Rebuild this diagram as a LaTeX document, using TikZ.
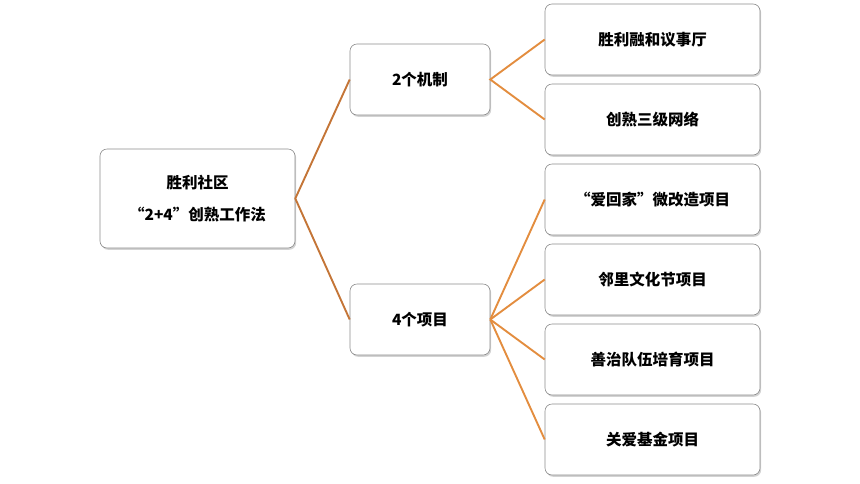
\documentclass[tikz,border=0pt]{standalone}
\usepackage{fontspec}
\setmainfont{Noto Sans CJK SC}
\usetikzlibrary{shadows}
\definecolor{rootline}{HTML}{C47537}
\definecolor{midline}{HTML}{E38D3F}
\tikzset{
  box/.style={draw=black!45, line width=0.6pt, rounded corners=7pt, fill=white,
    drop shadow={shadow xshift=1.2pt, shadow yshift=-1.8pt, opacity=0.35},
    align=center, font=\bfseries\fontsize{15.5}{32}\selectfont},
  rootbox/.style={box, minimum width=195pt, minimum height=99pt},
  midbox/.style={box, minimum width=140pt, minimum height=71pt},
  leafbox/.style={box, minimum width=215pt, minimum height=71pt},
  tie/.style={line width=1.9pt, color=midline}
}

\begin{document}
\begin{tikzpicture}[x=1pt, y=-1pt]
			%%%%% START %%%%%
			\useasboundingbox (0, 0) rectangle (860, 483);
			
			\node[rootbox] (root) at (197.5, 198.5) {胜利社区\\“2+4”创熟工作法};
			
			\node[midbox] (mech) at (420, 79.5) {2个机制};
			\node[midbox] (proj) at (420, 319.5) {4个项目};
			
			\node[leafbox] (hall) at (652.5, 39.5) {胜利融和议事厅};
			\node[leafbox] (grid) at (652.5, 119.5) {创熟三级网络};
			\node[leafbox] (home) at (652.5, 199.5) {“爱回家”微改造项目};
			\node[leafbox] (fest) at (652.5, 279.5) {邻里文化节项目};
			\node[leafbox] (team) at (652.5, 359.5) {善治队伍培育项目};
			\node[leafbox] (fund) at (652.5, 439.5) {关爱基金项目};
			
			\draw[tie, color=rootline] (mech.west) -- (root.east) -- (proj.west);
			
			\draw[tie] (hall.west) -- (mech.east) -- (grid.west);
			\foreach \leaf in {home, fest, team, fund}
				\draw[tie] (proj.east) -- (\leaf.west);
			
			%%%%% END %%%%%
\end{tikzpicture}
\end{document}
